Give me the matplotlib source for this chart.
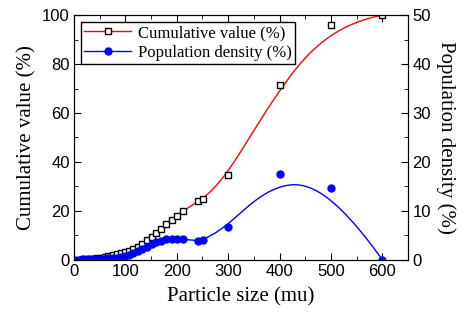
import matplotlib
matplotlib.use('Agg')
import matplotlib.pyplot as plt
import numpy as np
from matplotlib.ticker import MultipleLocator

# particle size (mu) and the two measured series
size = [0, 9, 18, 27, 36, 44, 52, 60, 67, 75, 83, 91, 99, 107, 115, 124, 133, 142,
        151, 160, 170, 180, 190, 201, 212, 242, 251, 300, 400, 500, 600]
cumulative = [0, 0.1, 0.2, 0.3, 0.4, 0.6, 0.8, 1.1, 1.4, 1.8, 2.2, 2.7, 3.1, 3.7, 4.4,
              5.3, 6.5, 8.0, 9.4, 11.0, 12.8, 14.6, 16.2, 17.9, 20.0, 23.9, 25.0,
              34.5, 71.5, 96.0, 100.0]
density = [0, 0.05, 0.08, 0.1, 0.12, 0.15, 0.2, 0.25, 0.3, 0.35, 0.4, 0.5, 0.7, 1.0,
           1.4, 1.8, 2.25, 2.7, 3.2, 3.6, 3.9, 4.2, 4.3, 4.35, 4.2, 3.9, 4.1,
           6.8, 17.6, 14.7, 0]


def bspline(px, py, n=500):
    # clamped cubic B-spline, data points used as control points (Origin "B-Spline" connect)
    px = np.asarray(px, float)
    py = np.asarray(py, float)
    k = 3
    m = len(px)
    knots = np.concatenate([[0] * k, np.arange(m - k + 1), [m - k] * k]).astype(float)
    t = np.linspace(0, m - k, n)
    N = np.zeros((n, len(knots) - 1))
    for i in range(len(knots) - 1):
        N[:, i] = (knots[i] <= t) & (t < knots[i + 1])
    N[-1, m - 1] = 1
    for d in range(1, k + 1):
        N2 = np.zeros((n, len(knots) - 1 - d))
        for i in range(len(knots) - 1 - d):
            a = knots[i + d] - knots[i]
            b = knots[i + d + 1] - knots[i + 1]
            term = np.zeros(n)
            if a > 0:
                term = term + (t - knots[i]) / a * N[:, i]
            if b > 0:
                term = term + (knots[i + d + 1] - t) / b * N[:, i + 1]
            N2[:, i] = term
        N = N2
    return N @ px, N @ py


plt.rcParams['font.family'] = ['Liberation Sans', 'DejaVu Sans']
serif = 'Liberation Serif'

fig = plt.figure(figsize=(4.74, 3.22), dpi=100)
ax = fig.add_axes([0.156, 0.193, 0.705, 0.760])
ax2 = ax.twinx()

cx, cy = bspline(size, cumulative)
dx, dy = bspline(size, density)

ax.plot(cx, cy, '-', color='red', lw=1)
ax.plot(size, cumulative, 's', mfc='white', mec='black', ms=5, mew=1)
ax2.plot(dx, dy, '-', color='blue', lw=1)
ax2.plot(size, density, 'o', color='blue', ms=5)

h1, = ax.plot([], [], '-s', color='red', mfc='white', mec='black', ms=5, mew=1, lw=1)
h2, = ax.plot([], [], '-o', color='blue', ms=5, lw=1)

ax.set_xlim(0, 650)
ax.set_ylim(0, 100)
ax2.set_ylim(0, 50)

ax.xaxis.set_major_locator(MultipleLocator(100))
ax.xaxis.set_minor_locator(MultipleLocator(50))
ax.yaxis.set_major_locator(MultipleLocator(20))
ax.yaxis.set_minor_locator(MultipleLocator(10))
ax2.yaxis.set_major_locator(MultipleLocator(10))
ax2.yaxis.set_minor_locator(MultipleLocator(5))

ax.tick_params(which='both', direction='in', top=True, labelsize=12, pad=3)
ax.tick_params(which='major', length=5)
ax.tick_params(which='minor', length=3)
ax2.tick_params(which='both', direction='in', labelsize=12, pad=3)
ax2.tick_params(which='major', length=5)
ax2.tick_params(which='minor', length=3)

ax.set_xlabel('Particle size (mu)', family=serif, fontsize=15, labelpad=6)
ax.set_ylabel('Cumulative value (%)', family=serif, fontsize=15, labelpad=4)
ax2.set_ylabel('Population density (%)', family=serif, fontsize=15, rotation=270, labelpad=18)

leg = ax.legend([h1, h2], ['Cumulative value (%)', 'Population density (%)'],
                loc='upper left', bbox_to_anchor=(0.021, 0.972), borderaxespad=0,
                numpoints=1, prop={'family': serif, 'size': 12}, fancybox=False,
                framealpha=1, edgecolor='black', handlelength=2.8, borderpad=0.2,
                labelspacing=0.2, handletextpad=0.4)
leg.get_frame().set_linewidth(1)

fig.savefig('out.png', dpi=100)
